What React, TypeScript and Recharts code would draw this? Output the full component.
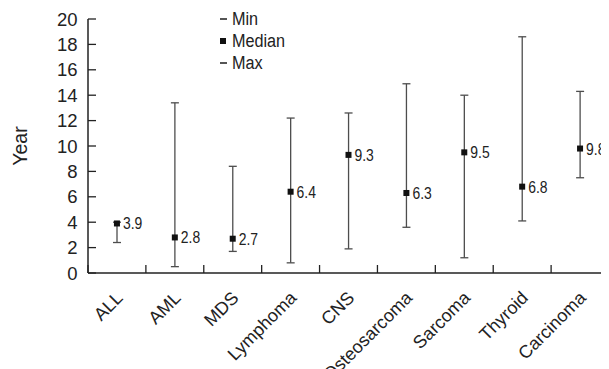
import React from 'react';
import { ComposedChart, Bar, Line, XAxis, YAxis, LabelList } from 'recharts';

const categories = ['ALL', 'AML', 'MDS', 'Lymphoma', 'CNS', 'Osteosarcoma', 'Sarcoma', 'Thyroid', 'Carcinoma'];
const minValues = [2.4, 0.5, 1.7, 0.8, 1.9, 3.6, 1.2, 4.1, 7.5];
const medianValues = [3.9, 2.8, 2.7, 6.4, 9.3, 6.3, 9.5, 6.8, 9.8];
const maxValues = [4.0, 13.4, 8.4, 12.2, 12.6, 14.9, 14.0, 18.6, 14.3];
const yTicks = [0, 2, 4, 6, 8, 10, 12, 14, 16, 18, 20];
const legendLabels = ['Min', 'Median', 'Max'];

const data = categories.map((c, i) => ({
  name: c,
  range: [minValues[i], maxValues[i]],
  median: medianValues[i],
}));

const W = 601;
const H = 361;
const YAXIS_W = 80;
const BAND = (W - YAXIS_W) / categories.length;
const FONT_R = '"Liberation Sans", Arial, sans-serif';

const Whisker = (props: any) => {
  const { x, y, width, height } = props;
  const cx = x + width / 2;
  const c = '#4d4d4d';
  return (
    <g>
      <line x1={cx} x2={cx} y1={y} y2={y + height} stroke={c} strokeWidth={1.3} />
      <line x1={cx - 4} x2={cx + 4} y1={y} y2={y} stroke={c} strokeWidth={1.3} />
      <line x1={cx - 4} x2={cx + 4} y1={y + height} y2={y + height} stroke={c} strokeWidth={1.3} />
    </g>
  );
};

const Square = (props: any) => {
  const { cx, cy } = props;
  if (cx == null || cy == null) return null;
  return <rect x={cx - 3} y={cy - 3} width={6} height={6} fill="#111" />;
};

const XTick = (props: any) => {
  const { x, y, payload } = props;
  const bx = x - BAND / 2;
  return (
    <g>
      <line x1={bx} x2={bx} y1={y} y2={y - 8} stroke="#222" strokeWidth={1.3} />
      <text
        x={0}
        y={0}
        transform={`translate(${x + 7},${y + 26}) rotate(-45)`}
        textAnchor="end"
        fontSize={18}
        fontFamily={FONT_R}
        fill="#222"
      >
        {payload.value}
      </text>
    </g>
  );
};

const MedianLabel = (props: any) => {
  const { x, y, value } = props;
  return (
    <text
      x={0}
      y={0}
      transform={`translate(${x + 6},${y + 6}) scale(0.82,1)`}
      fontSize={17}
      fontFamily={FONT_R}
      fill="#222"
    >
      {value}
    </text>
  );
};

const LegendBox = () => (
  <div
    style={{
      position: 'absolute',
      left: 212,
      top: 0,
      fontFamily: FONT_R,
      fontSize: 18,
      color: '#222',
      lineHeight: '22px',
    }}
  >
    {legendLabels.map((l, i) => (
      <div key={l} style={{ display: 'flex', alignItems: 'center', height: 22 }}>
        {i === 1 ? (
          <span style={{ display: 'inline-block', width: 6, height: 6, background: '#111', marginRight: 6 }} />
        ) : (
          <span style={{ display: 'inline-block', width: 7, height: 1.3, background: '#555', marginRight: 5 }} />
        )}
        <span style={{ display: 'inline-block', transform: 'scaleX(0.9)', transformOrigin: 'left center' }}>{l}</span>
      </div>
    ))}
  </div>
);

export default function App() {
  return (
    <div style={{ position: 'relative', width: W, height: H }}>
      <ComposedChart width={W} height={H} data={data} margin={{ top: 11, right: 0, bottom: 0, left: 0 }}>
        <XAxis
          dataKey="name"
          height={96}
          tickLine={false}
          tickSize={0}
          tickMargin={0}
          interval={0}
          tick={<XTick />}
          axisLine={{ stroke: '#222', strokeWidth: 1.5 }}
        />
        <YAxis
          width={YAXIS_W}
          domain={[0, 20]}
          ticks={yTicks}
          interval={0}
          tickSize={-8}
          tickMargin={18.5}
          tickLine={{ stroke: '#222', strokeWidth: 1.3 }}
          axisLine={{ stroke: '#222', strokeWidth: 1.5 }}
          tick={{ fontSize: 18.5, fontFamily: FONT_R, fill: '#222' }}
          label={{ value: 'Year', angle: -90, position: 'center', dx: -28, fontSize: 19.5, fontFamily: FONT_R, fill: '#222' }}
        />
        <Bar dataKey="range" barSize={8} shape={<Whisker />} isAnimationActive={false} legendType="none" />
        <Line
          dataKey="median"
          stroke="none"
          dot={<Square />}
          activeDot={false}
          isAnimationActive={false}
          legendType="none"
        >
          <LabelList dataKey="median" content={<MedianLabel />} />
        </Line>
      </ComposedChart>
      <LegendBox />
    </div>
  );
}
